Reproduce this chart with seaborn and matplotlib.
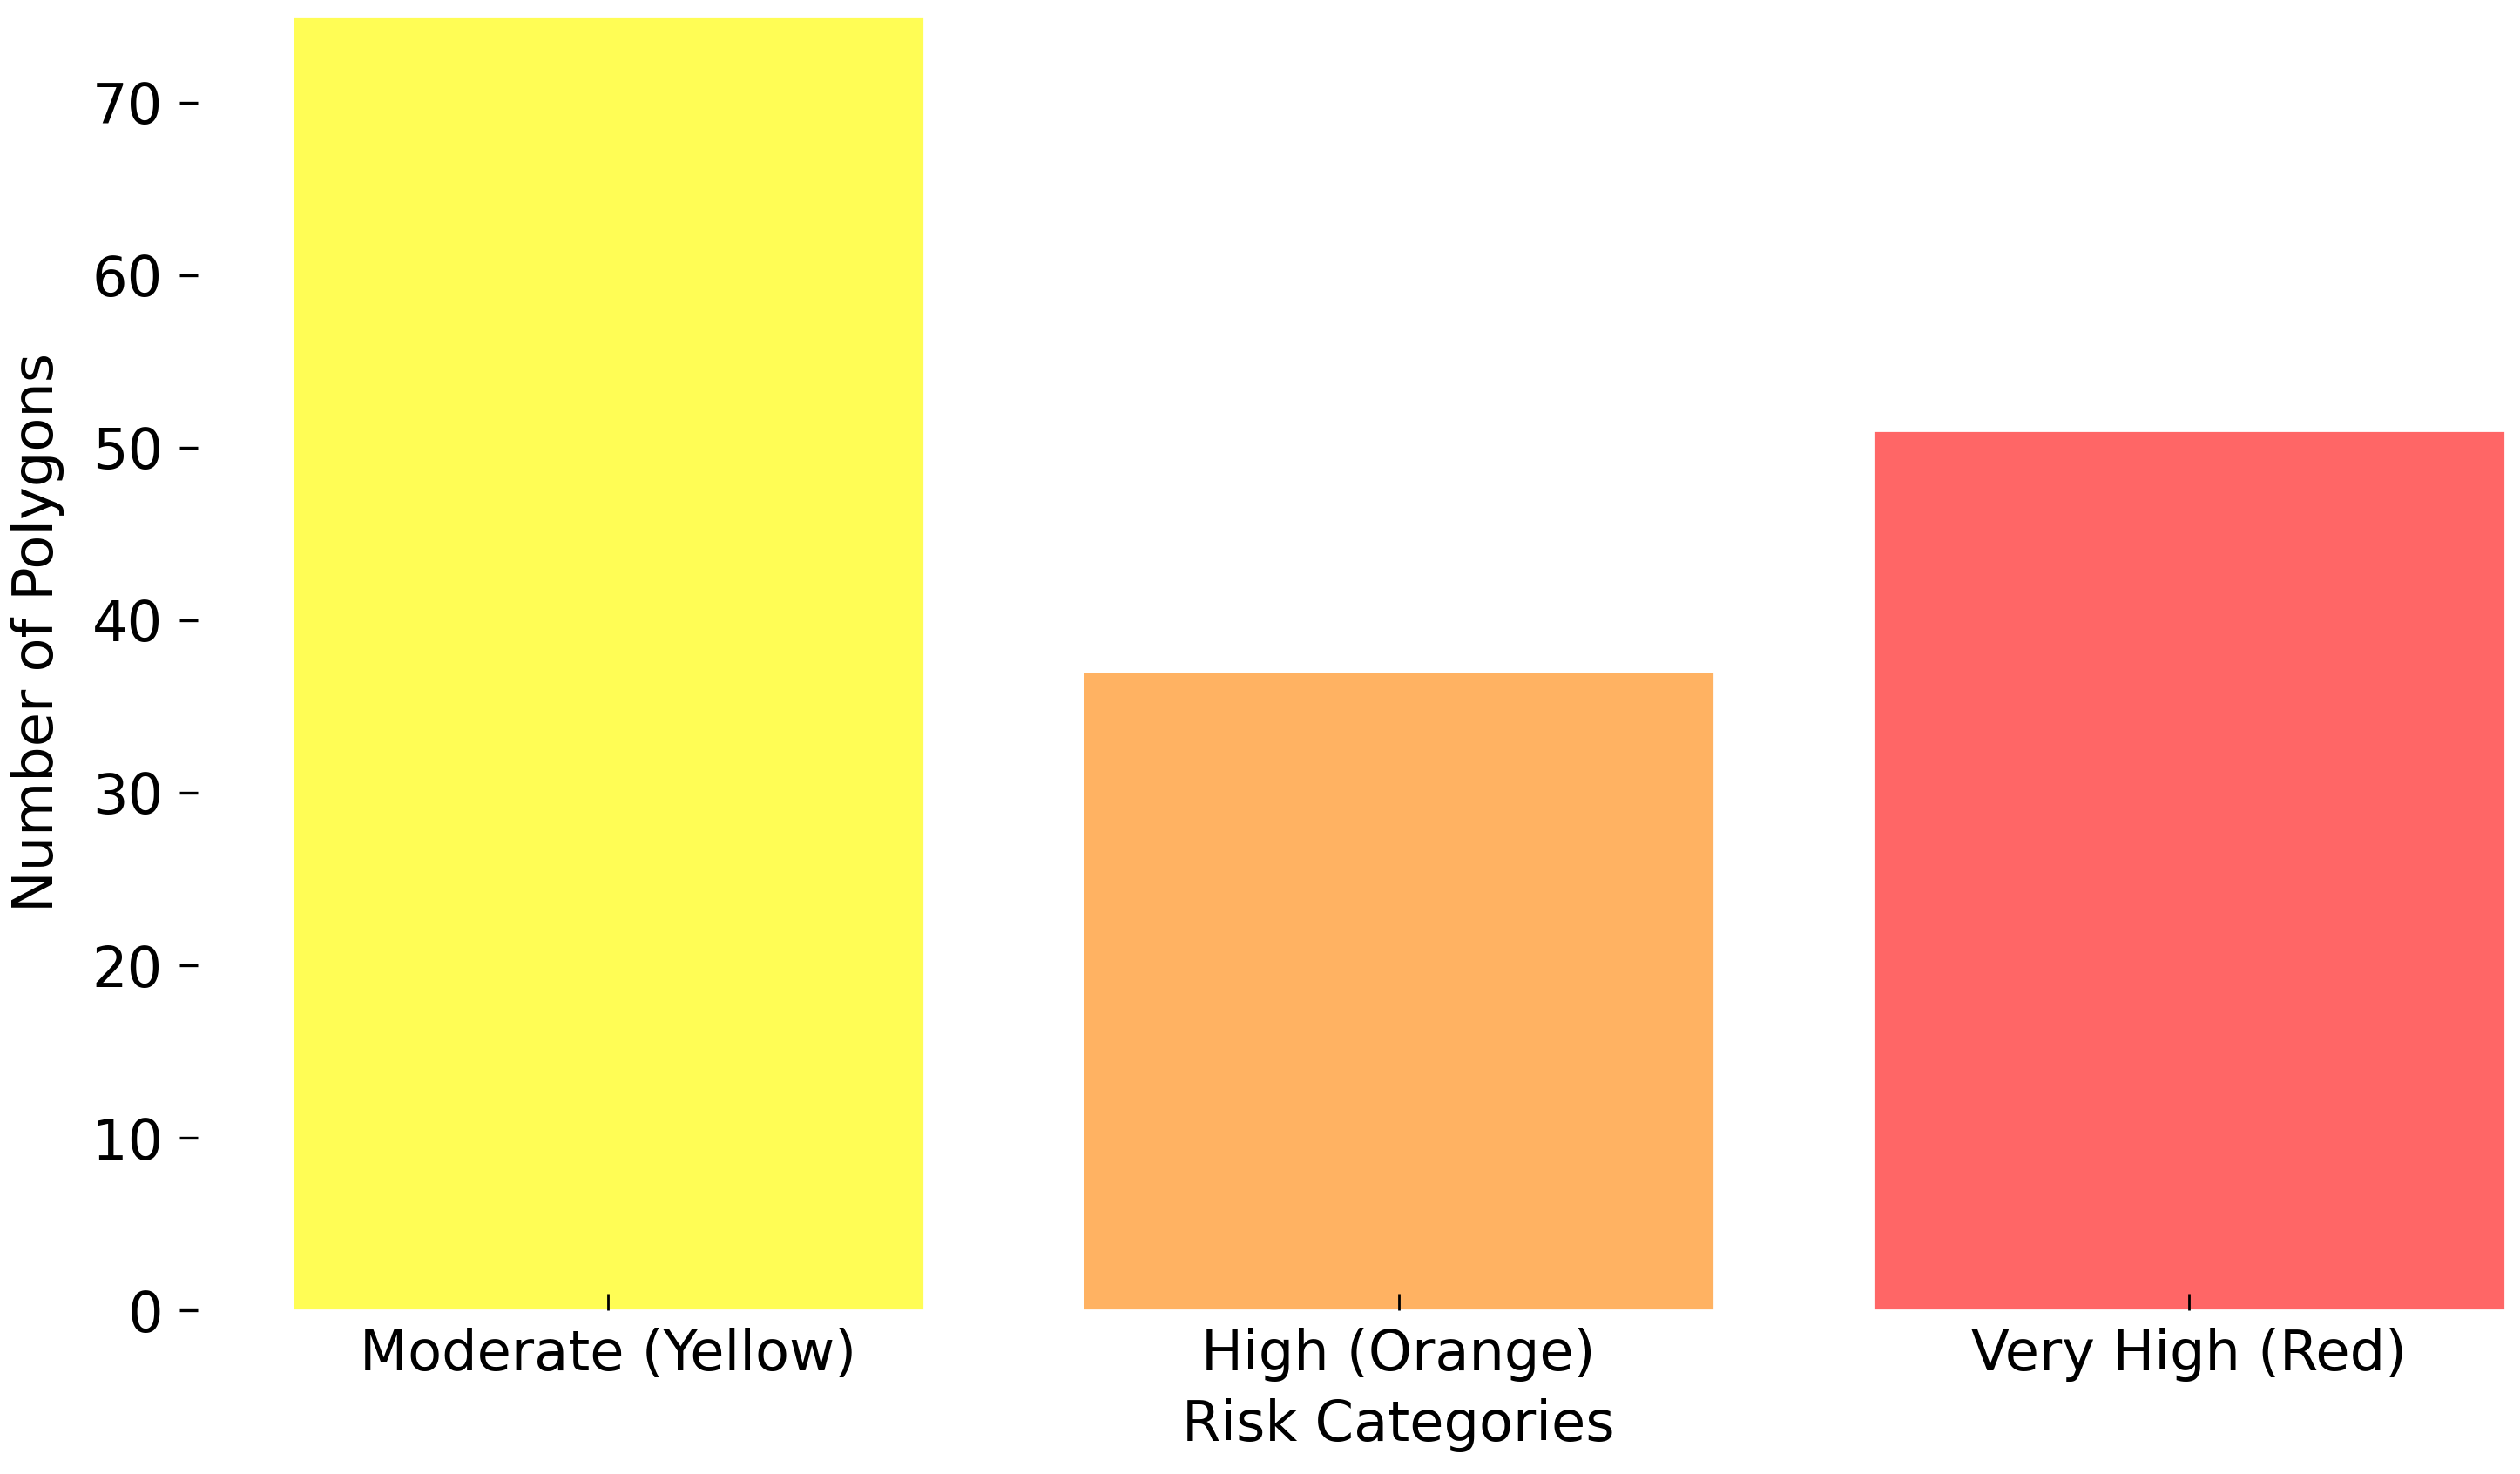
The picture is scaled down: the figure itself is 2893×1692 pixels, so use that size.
import numpy as np
import matplotlib
matplotlib.use('Agg')
import matplotlib.pyplot as plt
import pandas as pd
import seaborn as sns

sns.set_style('white')
plt.rcParams['font.family'] = ['DejaVu Sans']
plt.rcParams['text.color'] = 'black'
plt.rcParams['axes.labelcolor'] = 'black'
plt.rcParams['xtick.color'] = 'black'
plt.rcParams['ytick.color'] = 'black'

# chart data
categories = ['Moderate (Yellow)', 'High (Orange)', 'Very High (Red)']
counts = [75, 37, 51]
bar_colors = ['#FFFD55', '#FFB262', '#FF6666']

df = pd.DataFrame({'Risk Categories': categories, 'Number of Polygons': counts})

fig = plt.figure(figsize=(14.465, 8.46), dpi=200)
ax = fig.add_axes([0.116, 0.111, 0.878, 0.878])

sns.barplot(data=df, x='Risk Categories', y='Number of Polygons', hue='Risk Categories',
            palette=bar_colors, legend=False, width=0.8, saturation=1, ax=ax)

ax.set_xlim(-0.4, 2.4)
ax.set_ylim(0, 75)
ax.set_yticks(np.arange(0, 71, 10))
for s in ax.spines.values():
    s.set_visible(False)
# ticks on the y axis sit away from the bars
ax.spines['left'].set_position(('outward', 39))
ax.set_axisbelow(False)  # x ticks are drawn over the bars

ax.tick_params(axis='y', direction='out', length=7.5, width=1.2, pad=7, labelsize=23, left=True)
ax.tick_params(axis='x', direction='in', length=6.8, width=1.0, pad=7, labelsize=23, bottom=True)
ax.set_xlabel('Risk Categories', fontsize=23, labelpad=7)
ax.set_ylabel('Number of Polygons', fontsize=23)
ax.yaxis.set_label_coords(-0.103, 0.524)

fig.savefig('out.png', dpi=200)
